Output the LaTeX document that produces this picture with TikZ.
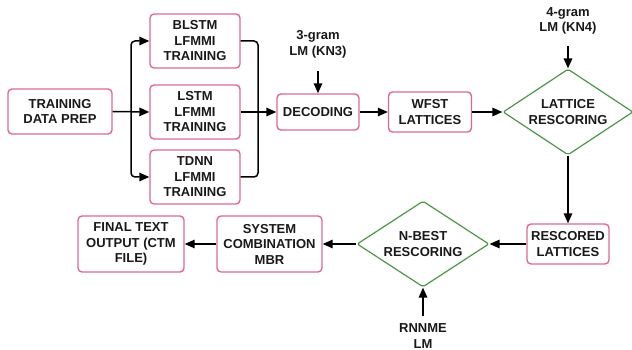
\documentclass[tikz,border=0pt]{standalone}
\usepackage{fontspec}
\setmainfont{Liberation Sans}
\usetikzlibrary{shapes.geometric,arrows.meta}
\definecolor{boxpink}{RGB}{222,104,146}
\definecolor{diagreen}{RGB}{76,150,72}
\tikzset{
  txt/.style={font=\fontsize{13}{15.5}\selectfont\bfseries, align=center, text=black!90},
  procbox/.style={txt, draw=boxpink, line width=1.4pt, rounded corners=4pt, inner sep=0pt},
  decision/.style={diamond, draw=diagreen, line width=1.2pt, rounded corners=2pt, inner sep=0pt},
  flow/.style={line width=1.5pt, draw=black, -{Triangle[length=10pt,width=8.5pt]}},
  plain/.style={line width=1.5pt, draw=black, rounded corners=4pt},
}
\begin{document}
\begin{tikzpicture}[x=1pt,y=-1pt]
\useasboundingbox (0,0) rectangle (632,350);

% processing boxes
\node[procbox, minimum width=104pt, minimum height=45pt] (prep) at (60,111.5) {TRAINING\\DATA PREP};
\node[procbox, minimum width=90pt, minimum height=54pt] (blstm) at (195,41) {BLSTM\\LFMMI\\TRAINING};
\node[procbox, minimum width=90pt, minimum height=54pt] (lstm) at (195,112) {LSTM\\LFMMI\\TRAINING};
\node[procbox, minimum width=90pt, minimum height=54pt] (tdnn) at (195,177) {TDNN\\LFMMI\\TRAINING};
\node[procbox, minimum width=82pt, minimum height=36pt] (dec) at (318,112) {DECODING};
\node[procbox, minimum width=83pt, minimum height=40pt] (wfst) at (430,112) {WFST\\LATTICES};
\node[procbox, minimum width=82pt, minimum height=40pt] (resc) at (568,244) {RESCORED\\LATTICES};
\node[procbox, minimum width=105pt, minimum height=56pt] (sys) at (269.5,244) {SYSTEM\\COMBINATION\\MBR};
\node[procbox, minimum width=106pt, minimum height=56pt] (final) at (131,244) {FINAL TEXT\\OUTPUT (CTM\\FILE)};

% decision diamonds (text set as a centred label so the outline keeps its size)
\node[decision, minimum width=130pt, minimum height=86pt,
      label={[txt]center:LATTICE\\RESCORING}] (latres) at (568,112) {};
\node[decision, minimum width=132pt, minimum height=86pt,
      label={[txt]center:N-BEST\\RESCORING}] (nbest) at (423,244) {};

% language model labels
\node[txt] (kn3) at (318,44.5) {3-gram\\LM (KN3)};
\node[txt] (kn4) at (568,21) {4-gram\\LM (KN4)};
\node[txt] (rnn) at (423,336) {RNNME\\LM};

% fan-out to the three acoustic models
\coordinate (split) at (131,112);
\coordinate (merge) at (258,112);
\draw[flow] (prep.east) -- (lstm.west);
\draw[flow, rounded corners=4pt] (split) |- (blstm.west);
\draw[flow, rounded corners=4pt] (split) |- (tdnn.west);

% fan-in to decoding
\draw[plain] (blstm.east) -| (merge);
\draw[plain] (tdnn.east) -| (merge);
\draw[flow] (lstm.east) -- (dec.west);

% main pipeline
\draw[flow] (dec.east) -- (wfst.west);
\draw[flow] (wfst.east) -- (latres.west);
\draw[flow] (latres.south) -- (resc.north);
\draw[flow] (resc.west) -- (nbest.east);
\draw[flow] (nbest.west) -- (sys.east);
\draw[flow] (sys.west) -- (final.east);

% language model inputs
\draw[flow, shorten <=9pt] (kn3.south) -- (dec.north);
\draw[flow, shorten <=8pt] (kn4.south) -- (latres.north);
\draw[flow, shorten <=4pt] (rnn.north) -- (nbest.south);
\end{tikzpicture}
\end{document}
